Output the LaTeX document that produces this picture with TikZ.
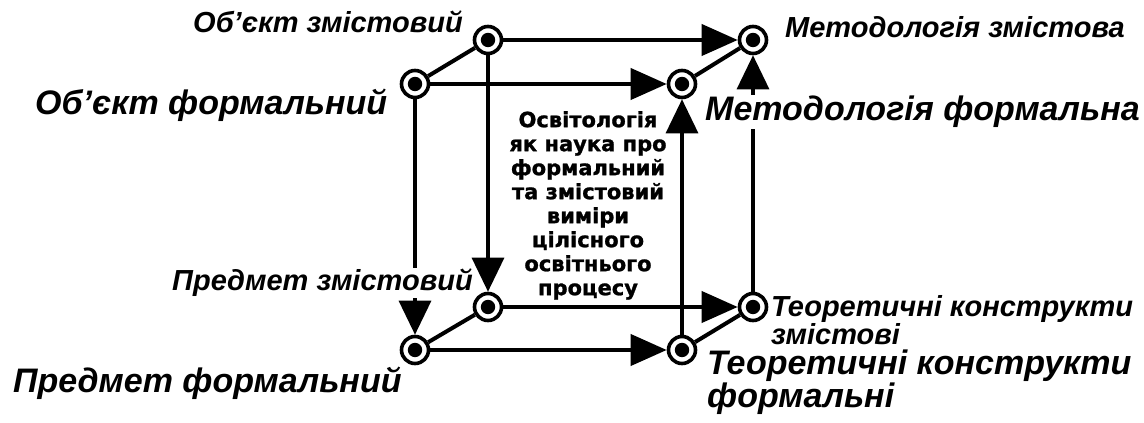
\documentclass[tikz,border=0pt]{standalone}
\usepackage{fontspec}
\setmainfont{Liberation Sans}
\newfontfamily\centerfont{DejaVu Sans}[BoldFeatures={FakeBold=1.2}]
\usetikzlibrary{arrows.meta}
\begin{document}
\begin{tikzpicture}[x=1pt,y=1pt,
  vert/.style={circle,draw,line width=3.6pt,fill=white,minimum size=27pt,inner sep=0pt,
    path picture={\fill[black] (path picture bounding box.center) circle (7.2pt);}},
  hedge/.style={line width=4pt,-{Triangle[length=36pt,width=31pt]}},
  vedge/.style={line width=3.2pt,-{Triangle[length=34pt,width=32pt]}},
  dedge/.style={line width=4pt},
  biglabel/.style={font=\fontsize{34}{31}\selectfont\bfseries\itshape,inner sep=0pt},
  smalllabel/.style={font=\fontsize{29}{25}\selectfont\bfseries\itshape,inner sep=0pt},
  centertext/.style={font=\centerfont\bfseries\fontsize{21}{24}\selectfont,align=center,inner sep=0pt},
  ]
\useasboundingbox (0,0) rectangle (1144,423);
% vertices
\node[vert] (ftl) at (415,339) {};
\node[vert] (ftr) at (682,339) {};
\node[vert] (fbl) at (415,73) {};
\node[vert] (fbr) at (682,73) {};
\node[vert] (btl) at (488,383) {};
\node[vert] (btr) at (753,383) {};
\node[vert] (bbl) at (488,116) {};
\node[vert] (bbr) at (753,116) {};
% edges
\draw[hedge] (btl) -- (btr);
\draw[hedge] (ftl) -- (ftr);
\draw[hedge] (bbl) -- (bbr);
\draw[hedge] (fbl) -- (fbr);
\draw[vedge] (ftl) -- (fbl);
\draw[vedge] (btl) -- (bbl);
\draw[vedge] (fbr) -- (ftr);
\draw[vedge] (bbr) -- (btr);
\draw[dedge] (ftl) -- (btl);
\draw[dedge] (ftr) -- (btr);
\draw[dedge] (fbl) -- (bbl);
\draw[dedge] (fbr) -- (bbr);
% labels
\node[smalllabel,anchor=base west] (lobz) at (193,390) {Об’єкт змістовий};
\node[biglabel,anchor=base west] (lobf) at (35,308) {Об’єкт формальний};
\node[smalllabel,anchor=base west] (lmz) at (785,385) {Методологія змістова};
\node[biglabel,anchor=base west,fill=white,inner sep=1pt] (lmf) at (704,302) {Методологія формальна};
\node[smalllabel,anchor=base west,fill=white,inner sep=1pt] (lpz) at (171,132) {Предмет змістовий};
\node[biglabel,anchor=base west] (lpf) at (13,30) {Предмет формальний};
\node[smalllabel,anchor=north west,align=left] (ltz) at (771,128) {Теоретичні конструкти\\змістові};
\node[biglabel,anchor=north west,align=left] (ltf) at (707,73) {Теоретичні конструкти\\формальні};
\node[centertext,anchor=north] (ctr) at (588,312) {Освітологія\\як наука про\\формальний\\та змістовий\\виміри\\цілісного\\освітнього\\процесу};
\end{tikzpicture}
\end{document}
